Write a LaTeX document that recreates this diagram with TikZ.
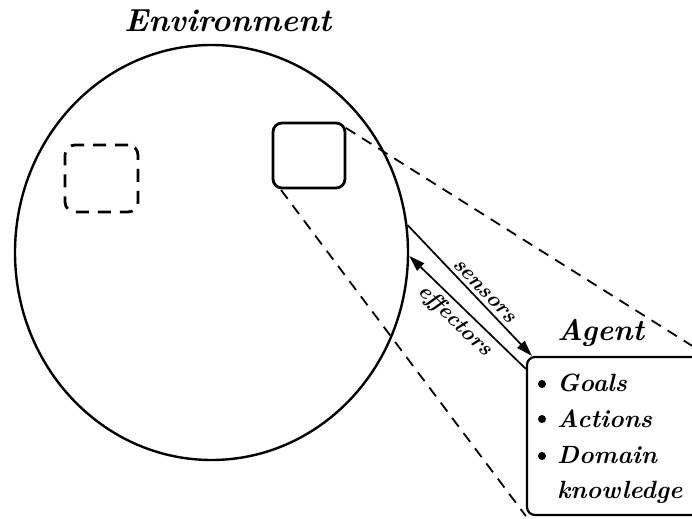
\documentclass[tikz,border=0pt]{standalone}
\usetikzlibrary{arrows.meta,shapes.geometric}
\begin{document}
\begin{tikzpicture}[x=1bp,y=-1bp,
  txt/.style={font=\bfseries\itshape, inner sep=0pt, anchor=base west},
  item/.style={txt, font=\fontsize{25}{30}\selectfont\bfseries\itshape},
  frame/.style={draw, line width=2.4bp},
  zoomline/.style={draw, line width=1.8bp, dash pattern=on 11bp off 8bp},
  link/.style={draw, line width=1.7bp, -{Triangle[length=16bp,width=10bp]}},
  linklabel/.style={font=\fontsize{22}{26}\selectfont\bfseries\itshape, inner sep=0pt, sloped},
  dot/.style={circle, fill, inner sep=0pt, minimum size=8bp}]
\useasboundingbox (0,0) rectangle (692,519);
\clip (0,0) rectangle (692,519);

% the environment
\node[frame, ellipse, inner sep=0pt, minimum width=393bp, minimum height=415bp] (env) at (211.5,252.5) {};
\node[txt, font=\fontsize{32}{38}\selectfont\bfseries\itshape] (envlabel) at (124,32) {Environment};

% regions inside the environment
\node[draw, line width=2.8bp, rounded corners=9bp, minimum width=72bp, minimum height=65bp] (view) at (309,155.5) {};
\node[draw, line width=2.8bp, dash pattern=on 13bp off 9bp, rounded corners=10bp, minimum width=73bp, minimum height=67bp] (other) at (101.5,178.5) {};

% the agent
\node[draw, line width=2.2bp, rounded corners=8bp, minimum width=180bp, minimum height=158bp] (agent) at (617,436) {};
\node[txt, font=\fontsize{30}{36}\selectfont\bfseries\itshape] (agentlabel) at (557,340) {Agent};
\node[dot] (d1) at (542,384) {};
\node[dot] (d2) at (542,419) {};
\node[dot] (d3) at (542,456) {};
\node[item] (goals) at (557,391) {Goals};
\node[item] (actions) at (557,427) {Actions};
\node[item] (domain) at (557,463) {Domain};
\node[item] (know) at (557,498) {knowledge};

% magnifying lines from the region to the agent
\coordinate (vne) at (346,128);
\coordinate (vsw) at (281,190);
\path[zoomline] (vne) -- (agent.north east);
\path[zoomline] (vsw) -- (agent.south west);

% sensors and effectors
\coordinate (sin) at ([xshift=6bp]agent.north west);
\coordinate (eout) at ([yshift=-13bp]agent.north west);
\path[link] (env.8) -- node[linklabel, pos=0.56, above=4bp] (slabel) {sensors} (sin);
\path[link] (eout) -- node[linklabel, pos=0.52, below=4bp] (elabel) {effectors} (env.-1);
\end{tikzpicture}
\end{document}
